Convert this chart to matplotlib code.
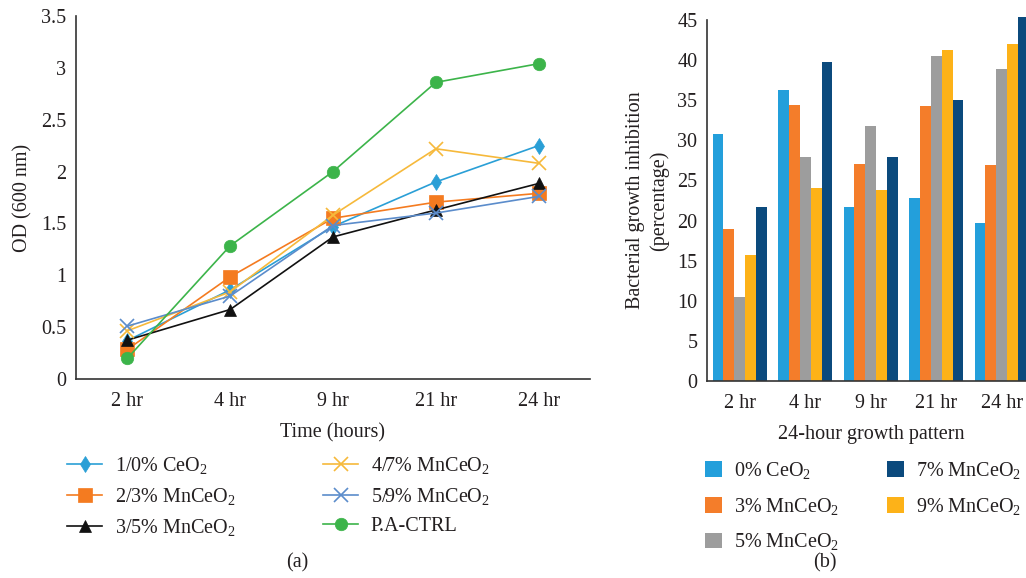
import matplotlib
matplotlib.use('Agg')
import matplotlib.pyplot as plt
import numpy as np
from matplotlib.patches import Patch

plt.rcParams['font.family'] = ['Liberation Serif', 'DejaVu Serif']
plt.rcParams['mathtext.fontset'] = 'custom'
plt.rcParams['mathtext.rm'] = 'Liberation Serif'
plt.rcParams['mathtext.default'] = 'regular'

times = ['2 hr', '4 hr', '9 hr', '21 hr', '24 hr']

# (a) optical density
od_ceo2 = [0.37, 0.86, 1.47, 1.90, 2.25]
od_mn3 = [0.285, 0.985, 1.55, 1.705, 1.79]
od_mn5 = [0.375, 0.67, 1.37, 1.63, 1.885]
od_mn7 = [0.465, 0.84, 1.58, 2.22, 2.08]
od_mn9 = [0.51, 0.80, 1.48, 1.60, 1.76]
od_ctrl = [0.20, 1.285, 2.00, 2.86, 3.04]

# (b) inhibition percentage
inh_ceo2 = [30.75, 36.25, 21.75, 22.75, 19.75]
inh_mn3 = [18.9, 34.4, 27.1, 34.25, 26.9]
inh_mn5 = [10.5, 27.9, 31.75, 40.5, 38.9]
inh_mn9 = [15.75, 24.0, 23.75, 41.25, 42.0]
inh_mn7 = [21.75, 39.75, 27.9, 35.0, 45.4]

W, H = 1026, 578
fig = plt.figure(figsize=(W / 100, H / 100), dpi=100)
txt = '#231f20'
fs = 14.5

# ---- left panel
ax1 = fig.add_axes([76 / W, 1 - 379 / H, 514 / W, 363 / H])
x = np.arange(len(times))
lines = [
    (od_ceo2, '1/0% CeO$_2$', '#2a9fd6', 'd', 8),
    (od_mn3, '2/3% MnCeO$_2$', '#f47b20', 's', 10),
    (od_mn5, '3/5% MnCeO$_2$', '#111111', '^', 9),
    (od_mn7, '4/7% MnCeO$_2$', '#f6b93b', 'x', 10),
    (od_mn9, '5/9% MnCeO$_2$', '#5b8ccb', 'x', 10),
    (od_ctrl, 'P.A-CTRL', '#3cb44a', 'o', 9),
]
handles = []
for vals, lab, col, mk, ms in lines:
    h, = ax1.plot(x, vals, color=col, marker=mk, markersize=ms, lw=1.2,
                  markeredgewidth=1.2 if mk == 'x' else 0.5, label=lab,
                  clip_on=False)
    handles.append(h)
ax1.set_xlim(-0.5, 4.5)
ax1.set_ylim(0, 3.5)
ax1.set_yticks([0, 0.5, 1, 1.5, 2, 2.5, 3, 3.5])
ax1.set_yticklabels(['0', '0.5', '1', '1.5', '2', '2.5', '3', '3.5'])
ax1.set_xticks(x)
ax1.set_xticklabels(times)
ax1.set_ylabel('OD (600 nm)', fontsize=fs, color=txt, labelpad=6)
ax1.set_xlabel('Time (hours)', fontsize=fs, color=txt, labelpad=9)

# ---- right panel
ax2 = fig.add_axes([707 / W, 1 - 381 / H, 327.5 / W, 361 / H])
bars = [
    (inh_ceo2, '0% CeO$_2$', '#239fdb'),
    (inh_mn3, '3% MnCeO$_2$', '#f47d2a'),
    (inh_mn5, '5% MnCeO$_2$', '#9d9d9d'),
    (inh_mn9, '9% MnCeO$_2$', '#fdb218'),
    (inh_mn7, '7% MnCeO$_2$', '#0b4a7d'),
]
bw = 0.166
for i, (vals, lab, col) in enumerate(bars):
    ax2.bar(x + (i - 2) * bw, vals, width=bw, color=col, clip_on=False)
ax2.set_xlim(-0.5, 4.5)
ax2.set_ylim(0, 45)
ax2.set_yticks(range(0, 46, 5))
ax2.set_xticks(x)
ax2.set_xticklabels(times)
ax2.set_ylabel('Bacterial growth inhibition\n(percentage)', fontsize=fs,
               color=txt, labelpad=6, linespacing=1.25)
ax2.set_xlabel('24-hour growth pattern', fontsize=fs, color=txt, labelpad=9)

for ax in (ax1, ax2):
    for s in ('top', 'right'):
        ax.spines[s].set_visible(False)
    for s in ('left', 'bottom'):
        ax.spines[s].set_color('#333333')
        ax.spines[s].set_linewidth(1.2)
    ax.tick_params(length=0, labelsize=fs, colors=txt, pad=7)
    ax.tick_params(axis='x', pad=9)

# legends, one per column
leg_kw = dict(loc='upper left', frameon=False, fontsize=fs, borderpad=0,
              borderaxespad=0, labelcolor=txt)
for col_handles, x0 in ((handles[:3], 67), (handles[3:], 323)):
    fig.legend(handles=col_handles, bbox_to_anchor=(x0 / W, 1 - 455 / H),
               handlelength=1.75, handletextpad=0.62, labelspacing=0.5,
               **leg_kw)

bar_handles = [Patch(facecolor=c, label=lab) for _, lab, c in bars]
for idx, x0 in (([0, 1, 2], 705), ([4, 3], 887)):
    fig.legend(handles=[bar_handles[i] for i in idx],
               bbox_to_anchor=(x0 / W, 1 - 460 / H),
               handlelength=0.82, handleheight=0.82, handletextpad=0.6,
               labelspacing=0.73, **leg_kw)

fig.text(297 / W, 1 - 563 / H, '(a)', ha='center', va='center',
         fontsize=fs, color=txt)
fig.text(825 / W, 1 - 563 / H, '(b)', ha='center', va='center',
         fontsize=fs, color=txt)

fig.savefig('out.png', dpi=100)
